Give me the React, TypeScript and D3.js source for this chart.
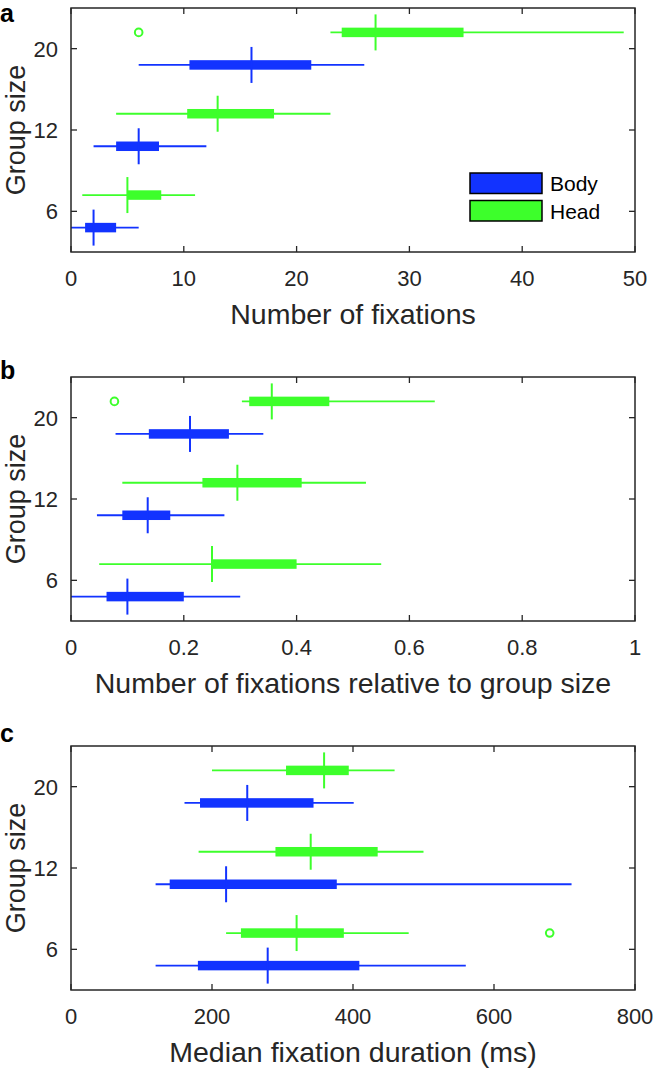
import React from "react";
import * as d3 from "d3";

// ---- Data (min, q1, median, q3, max) per group size ----
const groupLabels = ["6", "12", "20"];
const seriesNames = ["Body", "Head"];

const fixBody = [
  [0, 1.25, 2, 4, 6],
  [2, 4, 6, 7.8, 12],
  [6, 10.5, 16, 21.3, 26],
];
const fixHead = [
  [1, 5, 5, 8, 11],
  [4, 10.3, 13, 18, 23],
  [23, 24, 27, 34.8, 49],
];
const fixHeadOutliers = [{ g: 2, v: 6 }];
const fixTicks = [0, 10, 20, 30, 40, 50];

const relBody = [
  [0, 0.063, 0.1, 0.2, 0.3],
  [0.046, 0.091, 0.136, 0.176, 0.272],
  [0.079, 0.138, 0.211, 0.28, 0.341],
];
const relHead = [
  [0.05, 0.25, 0.25, 0.4, 0.55],
  [0.091, 0.233, 0.295, 0.409, 0.523],
  [0.303, 0.316, 0.356, 0.458, 0.645],
];
const relHeadOutliers = [{ g: 2, v: 0.077 }];
const relTicks = [0, 0.2, 0.4, 0.6, 0.8, 1];

const durBody = [
  [120, 180, 279, 409, 560],
  [120, 140, 220, 377, 710],
  [161, 183, 250, 344, 401],
];
const durHead = [
  [220, 241, 320, 387, 479],
  [181, 290, 340, 435, 500],
  [200, 305, 359, 394, 459],
];
const durHeadOutliers = [{ g: 0, v: 679 }];
const durTicks = [0, 200, 400, 600, 800];

const BLUE = "#1233ff";
const GREEN = "#3dff2b";
const AXIS = "#262626";
const FONT = "'Liberation Sans', Arial, Helvetica, sans-serif";

const LEFT = 71;
const RIGHT = 635;
const PH = 244;

type Outlier = { g: number; v: number };

function Panel(props: {
  top: number;
  letter: string;
  letterY: number;
  xMax: number;
  ticks: number[];
  tickFmt: (d: number) => string;
  body: number[][];
  head: number[][];
  headOut: Outlier[];
  title: string;
  legend?: boolean;
}) {
  const { top, letter, letterY, xMax, ticks, tickFmt, body, head, headOut, title, legend } = props;
  const bottom = top + PH;
  const x = d3.scaleLinear().domain([0, xMax]).range([LEFT, RIGHT]);
  const y = d3.scaleLinear().domain([0.5, 3.5]).range([bottom, top]);
  const off = 0.2;
  const boxH = 9.5;
  const medH = 18;

  const renderBox = (s: number[], yc: number, color: string, key: string) => (
    <g key={key}>
      <line x1={x(s[0])} x2={x(s[4])} y1={yc} y2={yc} stroke={color} strokeWidth={1.8} />
      <rect x={x(s[1])} y={yc - boxH / 2} width={x(s[3]) - x(s[1])} height={boxH} fill={color} />
      <line x1={x(s[2])} x2={x(s[2])} y1={yc - medH} y2={yc + medH} stroke={color} strokeWidth={2} />
    </g>
  );

  return (
    <g>
      <text x={0} y={letterY} fontFamily={FONT} fontWeight="bold" fontSize={25} fill="#000">
        {letter}
      </text>
      {body.map((s, i) => renderBox(s, y(i + 1 - off), BLUE, "b" + i))}
      {head.map((s, i) => renderBox(s, y(i + 1 + off), GREEN, "h" + i))}
      {headOut.map((o, i) => (
        <circle key={"o" + i} cx={x(o.v)} cy={y(o.g + 1 + off)} r={3.8} fill="none" stroke={GREEN} strokeWidth={2} />
      ))}
      {/* frame */}
      <rect x={LEFT} y={top} width={RIGHT - LEFT} height={PH} fill="none" stroke={AXIS} strokeWidth={1.5} />
      {/* x ticks */}
      {ticks.map((t) => (
        <g key={"xt" + t}>
          <line x1={x(t)} x2={x(t)} y1={bottom} y2={bottom - 6} stroke={AXIS} strokeWidth={1.3} />
          <line x1={x(t)} x2={x(t)} y1={top} y2={top + 6} stroke={AXIS} strokeWidth={1.3} />
          <text x={x(t)} y={bottom + 34} textAnchor="middle" fontFamily={FONT} fontSize={22} fill={AXIS}>
            {tickFmt(t)}
          </text>
        </g>
      ))}
      {/* y ticks */}
      {groupLabels.map((g, i) => (
        <g key={"yt" + g}>
          <line x1={LEFT} x2={LEFT + 6} y1={y(i + 1)} y2={y(i + 1)} stroke={AXIS} strokeWidth={1.3} />
          <line x1={RIGHT} x2={RIGHT - 6} y1={y(i + 1)} y2={y(i + 1)} stroke={AXIS} strokeWidth={1.3} />
          <text x={58} y={y(i + 1)} dy="0.36em" textAnchor="end" fontFamily={FONT} fontSize={22} fill={AXIS}>
            {g}
          </text>
        </g>
      ))}
      <text
        transform={`translate(25,${(top + bottom) / 2}) rotate(-90)`}
        textAnchor="middle"
        fontFamily={FONT}
        fontSize={27}
        fill={AXIS}
      >
        Group size
      </text>
      <text x={(LEFT + RIGHT) / 2} y={bottom + 72} textAnchor="middle" fontFamily={FONT} fontSize={28.5} fill={AXIS}>
        {title}
      </text>
      {legend && (
        <g>
          {seriesNames.map((n, i) => (
            <g key={n}>
              <rect
                x={470}
                y={top + 165 + i * 27.5}
                width={72}
                height={20.5}
                fill={i === 0 ? BLUE : GREEN}
                stroke="#000"
                strokeWidth={1.5}
              />
              <text x={550} y={top + 183 + i * 27.5} fontFamily={FONT} fontSize={21} fill="#000">
                {n}
              </text>
            </g>
          ))}
        </g>
      )}
    </g>
  );
}

export default function App() {
  return (
    <svg
      width={654}
      height={1068}
      style={{ position: "absolute", left: 0, top: 0, background: "#fff" }}
    >
      <rect width={654} height={1068} fill="#fff" />
      <Panel
        top={8}
        letter="a"
        letterY={22}
        xMax={50}
        ticks={fixTicks}
        tickFmt={(d) => String(d)}
        body={fixBody}
        head={fixHead}
        headOut={fixHeadOutliers}
        title="Number of fixations"
        legend
      />
      <Panel
        top={377}
        letter="b"
        letterY={379}
        xMax={1}
        ticks={relTicks}
        tickFmt={(d) => String(d)}
        body={relBody}
        head={relHead}
        headOut={relHeadOutliers}
        title="Number of fixations relative to group size"
      />
      <Panel
        top={746}
        letter="c"
        letterY={742}
        xMax={800}
        ticks={durTicks}
        tickFmt={(d) => String(d)}
        body={durBody}
        head={durHead}
        headOut={durHeadOutliers}
        title="Median fixation duration (ms)"
      />
    </svg>
  );
}
